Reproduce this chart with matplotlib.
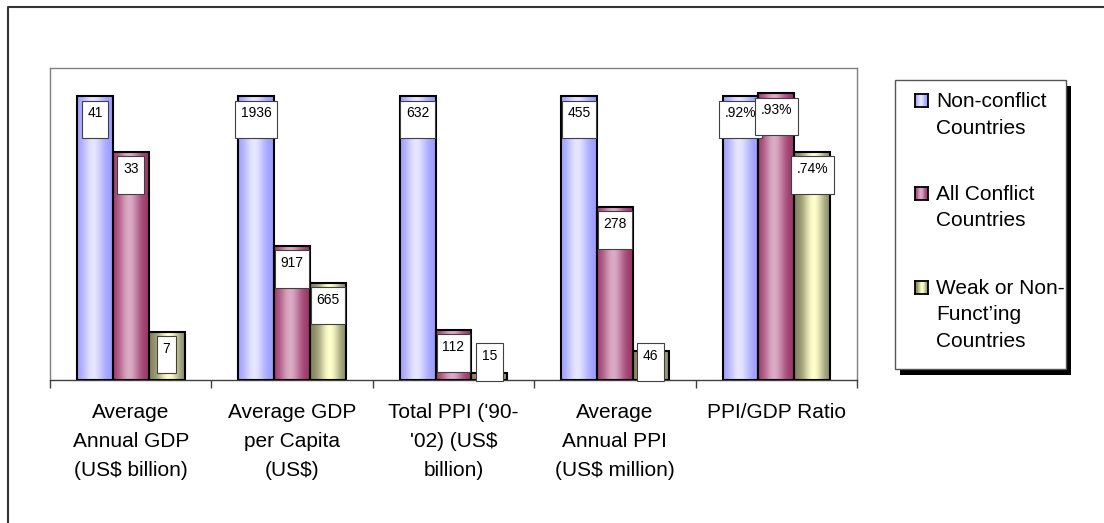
import matplotlib
matplotlib.use("Agg")
import matplotlib.pyplot as plt
import numpy as np
from matplotlib.patches import Rectangle
from matplotlib.lines import Line2D

plt.rcParams['font.family'] = ['Liberation Sans', 'DejaVu Sans']

groups = ["Average\nAnnual GDP\n(US$ billion)",
          "Average GDP\nper Capita\n(US$)",
          "Total PPI ('90-\n'02) (US$\nbillion)",
          "Average\nAnnual PPI\n(US$ million)",
          "PPI/GDP Ratio"]
series = ["Non-conflict\nCountries", "All Conflict\nCountries",
          "Weak or Non-\nFunct\u2019ing\nCountries"]
noncon = [41, 1936, 632, 455, 0.92]
allcon = [33, 917, 112, 278, 0.93]
weak = [7, 665, 15, 46, 0.74]

# dark edge colour, light centre colour for each series
dark = ["#9999ff", "#993366", "#7f7f5c"]
light = ["#e6e6ff", "#dbabc4", "#ffffcc"]
peak = [0.45, 0.45, 0.55]

W, H = 1104, 523


def px_box(x0, y0, x1, y1):
    return [x0 / W, 1 - y1 / H, (x1 - x0) / W, (y1 - y0) / H]


def grad(k, n=64):
    t = np.linspace(0, 1, n)
    f = np.exp(-((t - peak[k]) / 0.3) ** 2)
    d = np.array(matplotlib.colors.to_rgb(dark[k]))
    l = np.array(matplotlib.colors.to_rgb(light[k]))
    g = d[None, :] * (1 - f[:, None]) + l[None, :] * f[:, None]
    return g[None, :, :]


def fmt(v, ratio):
    if ratio:
        return ("%.2f%%" % v).lstrip("0")
    return "%d" % v


fig = plt.figure(figsize=(W / 100, H / 100), dpi=100)
fig.add_artist(Line2D([8 / W, 8 / W, 1], [0, 1 - 7 / H, 1 - 7 / H],
                      color="#333333", lw=1.5))

ax = fig.add_axes(px_box(50, 68, 857, 380))
ymax = 1.1
px_unit = 312 / ymax

data = [noncon, allcon, weak]
bw = 1 / 4.5
for k in range(3):
    for i in range(len(groups)):
        h = data[k][i] / noncon[i]
        x0 = i + 0.5 + (k - 1.5) * bw
        ax.imshow(grad(k), extent=[x0, x0 + bw, 0, h], aspect="auto",
                  interpolation="bilinear", zorder=2)
        ax.add_patch(Rectangle((x0, 0), bw, h, fill=False, ec="black",
                               lw=1.5, zorder=3))
        ya = max(h - 10 / px_unit, 31 / px_unit)
        ax.text(x0 + bw / 2, ya, fmt(data[k][i], i == 4) + "\n ",
                ha="center", va="top", fontsize=10, linespacing=0.85,
                zorder=5,
                bbox=dict(boxstyle="square,pad=0.4", fc="white",
                          ec="#404040", lw=0.8))

ax.set_xlim(0, len(groups))
ax.set_ylim(0, ymax)
ax.set_yticks([])
ax.set_xticks(range(len(groups) + 1))
ax.set_xticklabels([])
ax.tick_params(axis="x", length=6, color="#404040", width=1)
for s in ["left", "top", "right"]:
    ax.spines[s].set_color("#808080")
    ax.spines[s].set_linewidth(1)
ax.spines["bottom"].set_color("#404040")
ax.spines["bottom"].set_linewidth(1)

for i, g in enumerate(groups):
    ax.annotate(g, xy=(i + 0.5, 0), xycoords=ax.get_xaxis_transform(),
                xytext=(0, -16.5), textcoords="offset points",
                ha="center", va="top", fontsize=15, linespacing=1.67)

# legend
fig.add_artist(Rectangle((900 / W, 1 - 375 / H), (1071 - 900) / W,
                         (375 - 86) / H, transform=fig.transFigure,
                         fc="black", ec="none", zorder=1))
fig.add_artist(Rectangle((895 / W, 1 - 369 / H), (1066 - 895) / W,
                         (369 - 80) / H, transform=fig.transFigure,
                         fc="white", ec="#555555", lw=1, zorder=2))
mark_y = [101, 194, 288]
for k in range(3):
    cy = mark_y[k]
    m = fig.add_axes(px_box(915, cy - 7, 928, cy + 6), zorder=3)
    m.imshow(grad(k), aspect="auto", interpolation="bilinear")
    m.set_xticks([])
    m.set_yticks([])
    for s in m.spines.values():
        s.set_color("black")
        s.set_linewidth(1.3)
    fig.text(936 / W, 1 - (cy - 9) / H, series[k], ha="left", va="top",
             fontsize=15, linespacing=1.5, zorder=4)

fig.savefig("out.png", dpi=100)
